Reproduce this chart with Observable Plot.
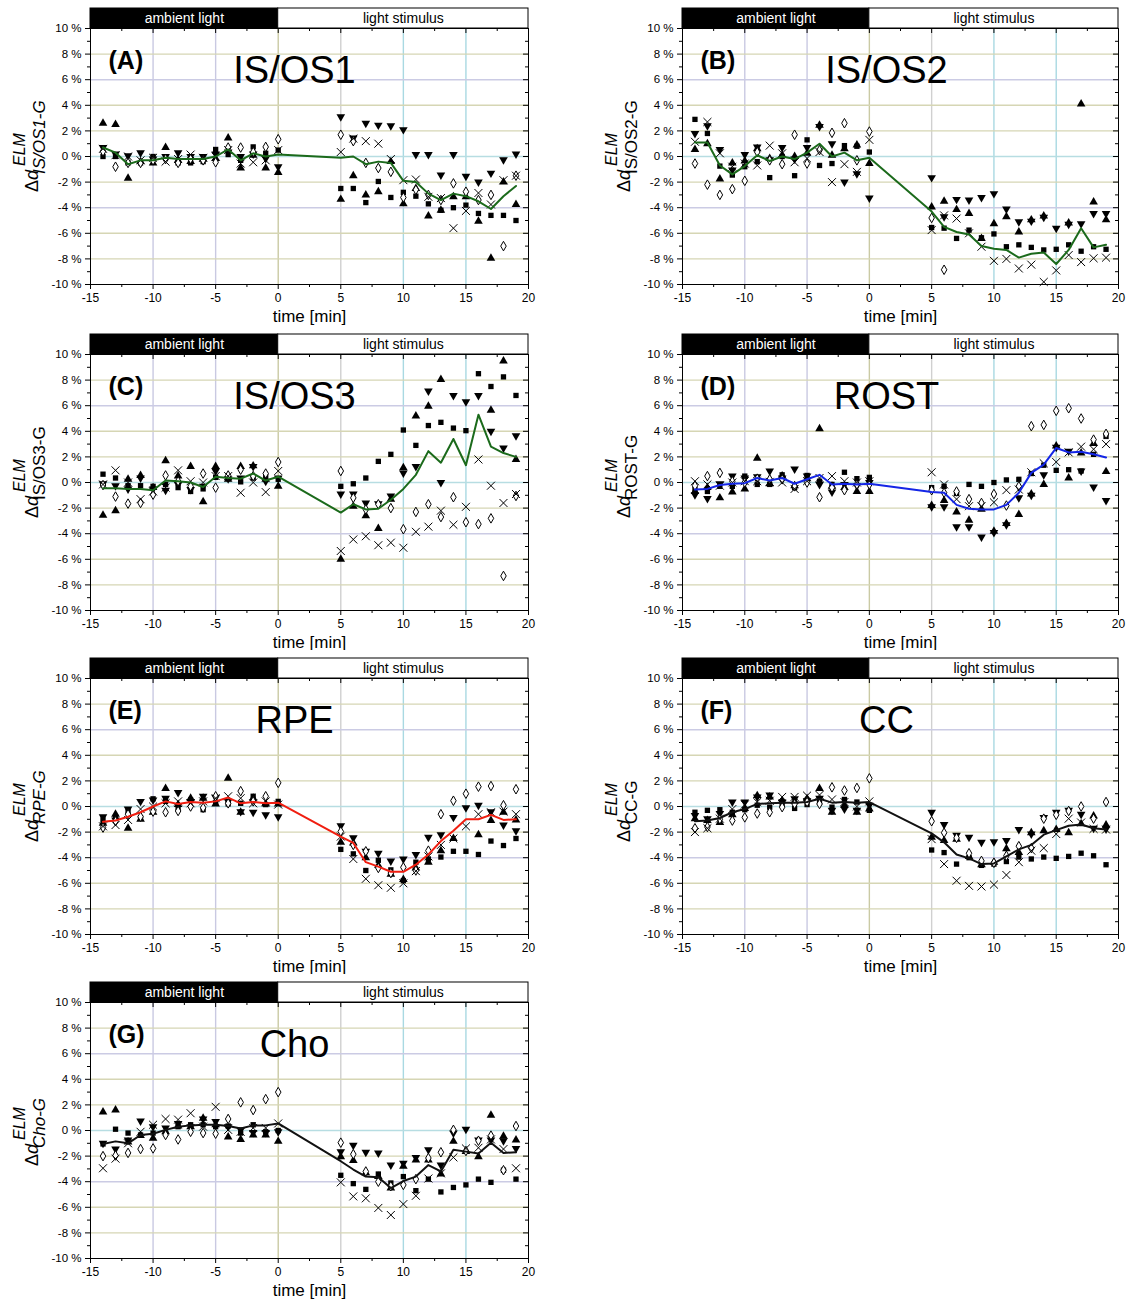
<!DOCTYPE html>
<html>
<head>
<meta charset="utf-8">
<script src="https://cdn.jsdelivr.net/npm/d3@7"></script>
<script src="https://cdn.jsdelivr.net/npm/@observablehq/plot@0.6"></script>
<style>
  body { margin: 0; background: #fff; }
  #wrap { position: relative; width: 1136px; height: 1306px; background: #fff; font-family: "Liberation Sans", Arial, sans-serif; }
  .panel { position: absolute; }
</style>
</head>
<body>
<div id="wrap"></div>
<script>
// ---------- data ----------
const times = [-14,-13,-12,-11,-10,-9,-8,-7,-6,-5,-4,-3,-2,-1,0,5,6,7,8,9,10,11,12,13,14,15,16,17,18,19];
const phaseLabels = ["ambient light", "light stimulus"];
const phaseStarts = [-15, 0];
const phaseEnds = [0, 20];
const xMajor = [-15,-10,-5,0,5,10,15,20];
const xMinor = [-12.5,-7.5,-2.5,2.5,7.5,12.5,17.5];
const yMajor = [-10,-8,-6,-4,-2,0,2,4,6,8,10];
const yMinor = [-9,-7,-5,-3,-1,1,3,5,7,9];
const gridX = [-10,-5,0,5,10,15];
const gridY = [-8,-6,-4,-2,0,2,4,6,8];

// Panel A: IS/OS1
const A_up   = [2.6,2.5,-1.7,-0.4,-0.5,0.7,-0.3,-0.4,-0.2,-0.15,1.45,-0.9,0.1,-0.9,-1.25,-3.35,-1.5,-3.0,-2.75,-0.4,-3.7,-2.5,-4.65,-4.2,-3.15,-3.15,-5.05,-7.95,-2.0,-3.75];
const A_down = [0.7,0.2,0.05,0.3,-0.2,0.0,0.3,0.0,0.0,0.2,0.35,0.0,0.2,-0.15,-0.8,3.1,1.45,2.6,2.45,2.4,2.1,0.15,0.15,-1.45,0.15,-1.55,-2.0,-1.3,-0.25,0.2];
const A_sq   = [0.0,0.0,-0.5,-0.5,0.0,-0.1,-0.5,-0.5,-0.4,0.55,0.15,-0.3,0.75,0.25,0.5,-2.5,-2.5,-3.6,-1.95,-3.2,-2.8,-3.1,-3.7,-4.2,-4.0,-3.8,-4.45,-4.6,-4.6,-5.0];
const A_dia  = [0.4,-0.8,-0.5,-0.5,-0.3,-0.2,-0.5,-0.2,-0.3,-0.45,0.7,0.7,0.35,0.75,1.35,1.7,1.2,-0.5,-0.9,-1.2,-3.2,-2.6,-3.0,-3.4,-2.1,-2.75,-3.4,-3.0,-7.0,-1.5];
const A_x    = [0.6,0.1,0.0,-0.3,-0.1,-0.4,-0.2,0.15,-0.1,0.0,0.5,-0.55,-0.45,-0.3,0.5,0.35,1.4,1.2,1.0,-0.2,-1.85,-1.8,-3.15,-3.25,-5.6,-4.25,-2.85,-3.75,-1.85,-1.5];
const A_mean = [0.7,0.3,-0.6,-0.3,-0.3,-0.1,-0.2,-0.2,-0.2,0.0,0.55,-0.3,0.25,0.0,0.15,-0.1,0.0,-0.6,-0.4,-0.5,-1.9,-2.0,-2.9,-3.4,-2.9,-3.1,-3.5,-4.1,-3.1,-2.3];

// Panel B: IS/OS2
const B_up   = [0.55,1.0,-1.75,-0.5,-0.35,0.6,-0.15,0.1,0.0,0.25,2.45,0.1,0.6,0.9,-0.55,-3.95,-3.5,-4.15,-4.45,-6.4,-5.25,-4.7,-5.9,-4.95,-4.65,null,-5.2,4.1,-3.55,-4.95];
const B_down = [1.8,2.4,0.55,-1.05,0.15,0.75,-0.25,0.7,-0.2,0.7,2.35,1.0,-2.0,-1.35,-3.25,-1.65,-4.7,-3.35,-3.4,-3.2,-2.9,-4.1,-5.1,-5.05,-4.75,-5.6,-5.3,-5.25,-4.45,-4.45];
const B_sq   = [2.9,1.8,-0.75,-1.45,-0.8,-0.4,-1.65,0.0,-1.5,1.3,-0.7,-0.55,0.85,0.8,0.35,-5.55,-5.6,-6.4,-5.75,-6.35,-6.05,-7.05,-6.9,-7.1,-7.3,-7.25,-6.9,-7.4,-7.05,-7.25];
const B_dia  = [-0.55,-2.2,-3.0,-2.55,-1.9,0.35,-0.3,-0.6,1.7,-0.55,0.5,1.85,2.6,-0.3,1.95,-4.8,-8.85,null,null,null,null,null,null,null,null,null,null,null,null,null];
const B_x    = [1.15,2.7,0.25,-0.8,-0.55,-0.7,0.85,0.25,-0.45,-0.15,0.35,-2.0,-0.6,-1.2,1.3,-5.75,-4.6,-4.85,-6.0,-7.05,-8.15,-8.0,-8.75,-8.45,-9.8,-8.9,-7.7,-8.25,-7.95,-7.9];
const B_mean = [1.1,1.1,-0.7,-1.4,-0.75,0.1,-0.35,0.0,-0.2,0.3,1.0,0.0,0.3,-0.3,-0.1,-4.3,-5.5,-5.9,-6.1,-7.0,-7.2,-7.3,-7.9,-7.6,-7.5,-8.4,-7.3,-5.6,-7.1,-6.9];

// Panel C: IS/OS3
const C_up   = [-2.55,-2.2,0.25,0.55,-0.4,1.7,0.5,1.25,-1.5,1.25,0.25,1.25,1.3,0.25,-0.3,-6.0,-1.85,-2.6,-3.6,-1.3,1.15,5.2,5.95,8.05,null,null,null,5.65,9.5,1.8];
const C_down = [-0.1,-0.25,-0.5,0.35,-0.5,-0.6,-0.15,-0.55,-0.3,0.9,0.3,0.35,1.25,0.1,0.35,-0.9,-0.9,-1.6,-1.65,-1.05,0.75,1.25,7.15,0.0,6.8,6.3,6.8,4.0,2.7,3.65];
const C_sq   = [0.65,0.35,-0.25,-0.25,-0.3,-0.15,-0.4,-0.7,-0.5,0.4,0.3,0.05,0.35,0.5,0.25,-0.3,-0.1,0.35,1.65,2.2,4.1,2.9,4.45,4.7,4.25,4.05,8.5,7.5,8.25,6.8];
const C_dia  = [-0.2,-1.1,-1.65,-1.6,-0.95,0.55,0.1,-0.3,0.7,-0.4,0.55,1.0,0.5,0.7,1.6,0.9,-1.2,-2.1,-1.7,-2.0,-3.65,-2.3,-1.7,-2.7,-1.15,-3.1,-3.25,-2.8,-7.3,-1.05];
const C_x    = [-0.15,0.95,0.0,-1.3,-0.7,-0.4,0.95,0.1,0.0,0.5,0.5,-0.8,0.0,-0.75,0.9,-5.35,-4.45,-4.2,-4.9,-4.7,-5.1,-3.85,-3.45,-2.2,-3.3,-1.9,1.8,-0.25,-1.6,-0.9];
const C_mean = [-0.45,-0.45,-0.5,-0.5,-0.6,0.15,0.1,0.0,-0.35,0.45,0.35,0.3,0.7,0.15,0.45,-2.35,-1.7,-2.1,-2.05,-1.35,-0.5,0.6,2.45,1.55,3.4,1.35,5.3,2.8,2.3,2.0];

// Panel D: ROST
const D_up   = [-0.7,-0.4,-1.2,-0.75,-0.5,1.9,-0.1,0.5,-0.25,0.3,4.2,-0.3,-0.4,-0.7,-0.7,-1.8,-1.4,-2.3,-2.95,-2.1,-3.8,-3.2,-2.5,-0.9,-0.15,2.85,0.35,2.3,3.05,0.85];
const D_down = [-0.95,-1.25,-0.1,0.5,0.35,0.45,0.9,0.35,1.05,0.5,-0.15,-0.75,-0.15,-0.25,0.0,-1.9,-1.9,-3.45,-3.45,-4.25,-3.9,-3.3,-1.2,-1.0,0.6,2.75,2.45,0.9,-0.35,-1.4];
const D_sq   = [-0.55,-0.7,-0.3,-0.3,0.5,-0.15,-0.15,0.6,-0.4,0.55,0.1,-0.15,0.8,0.3,0.4,-0.4,-0.3,-0.85,-0.15,-0.3,0.0,0.2,0.25,0.7,1.35,0.95,1.0,0.9,2.2,3.6];
const D_dia  = [-0.25,0.5,0.75,0.1,0.0,0.3,0.25,0.25,-0.3,0.0,-1.15,-0.4,-0.6,-0.15,-0.15,-0.6,-0.8,-0.7,-1.3,-1.6,-0.9,-1.8,-0.3,4.4,4.5,5.6,5.8,5.0,3.35,3.8];
const D_x    = [0.1,-0.15,-0.25,0.0,0.1,0.1,0.05,0.0,-0.5,0.1,0.35,0.5,0.1,0.0,0.1,0.8,-0.15,-1.3,-1.85,-1.85,-1.55,-0.6,-0.55,0.8,1.5,1.6,2.35,2.8,2.6,3.0];
const D_mean = [-0.55,-0.5,-0.2,-0.1,-0.05,0.35,0.15,0.35,-0.1,0.25,0.6,-0.15,-0.1,-0.15,-0.1,-0.75,-0.8,-1.75,-2.05,-2.1,-2.1,-1.75,-0.8,0.75,1.4,2.7,2.35,2.4,2.2,1.95];

// Panel E: RPE
const E_up   = [-1.3,-0.6,-1.7,-1.0,-0.45,1.4,0.15,0.65,0.65,0.2,2.2,-0.45,0.65,0.2,0.2,-2.8,-2.85,-4.0,-4.6,-5.3,-5.7,-4.8,-4.35,-3.45,-2.5,null,-2.2,-1.1,-0.45,-1.05];
const E_down = [-0.8,-1.05,-0.2,0.4,0.5,0.65,1.1,0.4,0.8,0.7,0.4,-0.4,-0.45,-0.65,-0.8,-1.5,-2.45,-3.5,-3.65,-4.25,-4.1,-3.75,-2.4,-2.2,-0.85,-0.1,0.1,-0.4,-1.45,-1.9];
const E_sq   = [-1.05,-0.8,-0.4,-0.9,0.6,0.4,-0.1,0.5,-0.25,0.25,0.2,0.25,0.8,0.15,0.4,-3.35,-3.7,-5.0,-4.2,-4.95,-5.8,-4.35,-4.1,-3.95,-3.5,-3.5,-3.75,-2.7,-3.05,-2.5];
const E_dia  = [-1.65,-1.15,-0.6,-0.8,-0.4,-0.45,-0.35,0.0,-0.1,0.8,0.25,1.2,0.4,0.8,1.85,-1.95,-3.0,-3.5,-4.8,-5.2,-4.75,-5.0,-3.45,-0.6,0.45,1.0,1.55,1.6,0.1,1.35];
const E_x    = [-1.55,-1.45,-1.05,-0.2,0.0,0.25,0.4,0.25,0.4,0.65,0.8,0.65,0.25,0.4,0.15,-2.35,-4.1,-5.65,-6.15,-6.35,-6.0,-5.05,-3.9,-3.0,-2.5,-1.55,-0.6,-0.45,-0.4,-0.6];
const E_mean = [-1.2,-1.1,-0.8,-0.45,0.0,0.4,0.2,0.35,0.3,0.4,0.7,0.25,0.35,0.25,0.3,-2.35,-2.85,-4.35,-4.7,-5.1,-5.1,-4.55,-3.75,-2.7,-1.9,-1.0,-1.0,-0.65,-1.05,-1.0];

// Panel F: CC
const F_up   = [-0.95,-1.1,-1.25,-0.65,-0.15,0.85,0.75,0.45,0.4,0.6,1.4,-0.45,0.1,-0.45,-0.2,-2.4,-2.65,-2.55,-3.9,-4.55,-4.35,-3.3,-3.6,-2.05,-1.9,-1.8,-2.05,-1.35,-0.75,-1.45];
const F_down = [-0.7,-0.95,-0.55,0.35,0.35,0.75,0.9,0.35,0.6,0.45,0.65,-0.3,-0.2,-0.3,0.1,-0.45,-1.4,-2.25,-2.4,-2.8,-2.75,-2.65,-1.8,-2.15,-0.85,-0.45,-0.3,-0.6,-1.7,-1.75];
const F_sq   = [-0.45,-0.3,-0.25,-0.45,-0.25,0.1,-0.05,0.15,-0.15,0.15,0.35,-0.05,0.55,0.35,-0.3,-3.4,-3.6,-4.5,-4.0,-4.6,-4.5,-4.3,-3.95,-4.1,-3.95,-4.05,-3.9,-3.65,-3.85,-4.55];
const F_dia  = [-1.7,-1.6,-1.0,-1.1,-0.85,-0.55,-0.45,-0.05,0.2,0.35,0.2,1.5,1.25,1.45,2.2,-1.15,-2.05,-2.45,-3.65,-4.25,-4.4,-3.85,-3.1,-3.25,-0.95,-0.65,-0.35,0.0,-0.95,0.35];
const F_x    = [-2.0,-1.7,-0.95,-0.2,0.15,0.35,0.45,0.75,0.75,0.85,0.9,0.55,0.35,0.0,0.4,-2.55,-4.5,-5.8,-6.2,-6.25,-6.1,-5.35,-4.35,-3.45,-3.25,-2.15,-0.95,-1.25,-1.75,-1.8];
const F_mean = [-1.15,-1.1,-0.9,-0.45,-0.2,0.2,0.25,0.3,0.3,0.35,0.6,0.3,0.35,0.3,0.35,-2.1,-2.8,-3.75,-4.05,-4.5,-4.45,-3.9,-3.35,-3.0,-2.2,-1.85,-1.5,-1.4,-1.7,-1.8];

// Panel G: Cho
const G_up   = [1.45,1.6,-0.9,-0.4,-0.6,-0.1,0.35,0.3,0.95,0.45,-0.5,-0.7,-0.35,-0.35,-0.85,-2.05,-2.35,-3.3,-3.6,-4.5,-2.8,-2.3,-2.3,-3.4,-0.85,-1.65,-2.05,1.2,-0.45,-0.75];
const G_down = [-1.0,-1.45,-0.75,0.75,0.3,0.2,0.55,0.3,0.9,0.7,0.3,0.05,-0.15,-0.15,-0.1,-1.65,-1.15,-1.7,-1.75,-2.7,-2.55,-2.1,-1.5,-2.7,-0.2,0.1,-0.75,-0.75,-0.8,-1.4];
const G_sq   = [-1.05,0.1,-0.2,-0.35,-0.2,-0.2,0.3,0.45,0.45,0.3,0.35,-0.2,0.45,-0.1,0.0,-3.5,-4.15,-4.6,-3.4,-4.1,-3.6,-4.7,-3.8,-4.8,-4.45,-4.25,-3.8,-4.05,-3.1,-3.8];
const G_dia  = [-2.0,-1.95,-1.75,-1.45,-1.4,-0.35,-0.7,-0.1,-0.2,-0.25,0.9,2.2,1.6,2.45,3.0,-0.95,-1.85,-3.2,-4.0,-4.35,-4.25,-3.8,-2.15,-1.7,0.05,-1.6,-0.8,-0.4,-3.1,0.35];
const G_x    = [-2.95,-2.2,-1.0,-0.1,0.45,0.9,0.85,1.35,0.3,1.85,0.05,-0.1,0.2,0.2,0.55,-4.05,-5.15,-5.3,-6.05,-6.6,-5.75,-5.1,-3.75,-3.35,-2.1,-1.4,-1.35,-0.7,-1.45,-2.95];
const G_mean = [-1.05,-0.85,-1.0,-0.35,-0.25,0.05,0.3,0.4,0.45,0.45,0.35,0.15,0.4,0.4,0.55,-2.4,-3.05,-3.6,-3.65,-4.5,-3.95,-3.6,-2.7,-3.2,-1.5,-1.65,-1.8,-0.95,-1.75,-1.7];

const panelLetters = ["(A)","(B)","(C)","(D)","(E)","(F)","(G)"];
const panelNames = ["IS/OS1","IS/OS2","IS/OS3","ROST","RPE","CC","Cho"];
const panelSubs = ["IS/OS1-G","IS/OS2-G","IS/OS3-G","ROST-G","RPE-G","CC-G","Cho-G"];

// ---------- styles ----------
const FONT = '"Liberation Sans", Arial, Helvetica, sans-serif';
const panelStyle = [
  {color: "#1b6a1b", italicSub: true},
  {color: "#1b6a1b", italicSub: false},
  {color: "#1b6a1b", italicSub: false},
  {color: "#1426e6", italicSub: false},
  {color: "#f01e10", italicSub: true},
  {color: "#111111", italicSub: false},
  {color: "#111111", italicSub: true}
];
const seriesSets = [
  [A_up, A_down, A_sq, A_dia, A_x, A_mean],
  [B_up, B_down, B_sq, B_dia, B_x, B_mean],
  [C_up, C_down, C_sq, C_dia, C_x, C_mean],
  [D_up, D_down, D_sq, D_dia, D_x, D_mean],
  [E_up, E_down, E_sq, E_dia, E_x, E_mean],
  [F_up, F_down, F_sq, F_dia, F_x, F_mean],
  [G_up, G_down, G_sq, G_dia, G_x, G_mean]
];

const triangleDown = {
  draw(context, size) {
    const y = Math.sqrt(size / (Math.sqrt(3) * 3));
    context.moveTo(0, y * 2);
    context.lineTo(-Math.sqrt(3) * y, -y);
    context.lineTo(Math.sqrt(3) * y, -y);
    context.closePath();
  }
};
const markerStyles = [
  {symbol: "triangle", fill: "black", stroke: "none", r: 3.2, strokeWidth: 0},
  {symbol: triangleDown, fill: "black", stroke: "none", r: 3.2, strokeWidth: 0},
  {symbol: "square", fill: "black", stroke: "none", r: 3.0, strokeWidth: 0},
  {symbol: "diamond", fill: "white", stroke: "black", r: 2.9, strokeWidth: 1},
  {symbol: "times", fill: "none", stroke: "black", r: 3.7, strokeWidth: 1}
];

function gridXColor(v) {
  if (v === 0) return "#cacaa4";
  if (v === 5) return "#d0d0d0";
  if (v >= 10) return "#a9d9e2";
  return "#c9c9e2";
}
function gridYColor(v) {
  if (v === 0) return "#b7dde2";
  if (v === 6 || v === -4) return "#cbcbe4";
  return "#d6d6b4";
}

const phases = phaseLabels.map((label, i) => ({label, start: phaseStarts[i], end: phaseEnds[i], dark: i === 0}));

// ---------- build ----------
const wrap = document.getElementById("wrap");
const W = 540, H = 330, mL = 90, mT = 28, mB = 46;
const rowTops = [0, 326, 650, 974];

panelNames.forEach((name, i) => {
  const col = i % 2, row = Math.floor(i / 2);
  const mR = col ? 14 : 12;
  const frameW = W - mL - mR, frameH = H - mT - mB;
  const sets = seriesSets[i];
  const style = panelStyle[i];

  const dotMarks = markerStyles.map((ms, k) => {
    const rows = times.map((t, j) => ({t, v: sets[k][j]})).filter(d => d.v != null);
    return Plot.dot(rows, {x: "t", y: "v", symbol: ms.symbol, r: ms.r, fill: ms.fill, stroke: ms.stroke, strokeWidth: ms.strokeWidth});
  });
  const meanRows = times.map((t, j) => ({t, v: sets[5][j]}));

  const chart = Plot.plot({
    width: W, height: H,
    marginLeft: mL, marginRight: mR, marginTop: mT, marginBottom: mB,
    x: {domain: [-15, 20], label: null},
    y: {domain: [-10, 10], label: null},
    color: {type: "identity"},
    style: {fontFamily: FONT, fontSize: "12px", color: "black", background: "white", overflow: "visible"},
    marks: [
      Plot.ruleX(gridX, {x: d => d, stroke: d => gridXColor(d), strokeWidth: 1.4}),
      Plot.ruleY(gridY, {y: d => d, stroke: d => gridYColor(d), strokeWidth: 1.4}),
      // header bar
      Plot.rect(phases, {x1: "start", x2: "end", fill: d => d.dark ? "black" : "white", stroke: "black", strokeWidth: 1, insetTop: -20, insetBottom: frameH}),
      Plot.text(phases, {x: d => (d.start + d.end) / 2, frameAnchor: "top", dy: -10, lineAnchor: "middle", text: "label", fill: d => d.dark ? "white" : "black", fontSize: 14}),
      // panel titles
      Plot.text([panelLetters[i]], {frameAnchor: "top-left", dx: 18, dy: 40, text: d => d, fontSize: 25, fontWeight: "bold", textAnchor: "start", lineAnchor: "bottom"}),
      Plot.text([name], {frameAnchor: "top-left", dx: 204, dy: 54, text: d => d, fontSize: 38, textAnchor: "middle", lineAnchor: "bottom"}),
      // markers and mean line
      ...dotMarks,
      Plot.line(meanRows, {x: "t", y: "v", stroke: style.color, strokeWidth: 2, strokeLinejoin: "round"}),
      // frame and ticks
      Plot.frame({stroke: "black", strokeWidth: 1}),
      Plot.axisY(yMajor, {anchor: "left", tickSize: 5, tickPadding: 4, tickFormat: d => d + " %", fontSize: 11.5, label: null}),
      Plot.axisY(yMinor, {anchor: "left", tickSize: 3, tickFormat: () => "", label: null}),
      Plot.axisX(xMajor, {anchor: "bottom", tickSize: 5, tickPadding: 4, tickFormat: d => String(d), fontSize: 12, label: null}),
      Plot.axisX(xMinor, {anchor: "bottom", tickSize: 3, tickFormat: () => "", label: null}),
      Plot.tickY(yMajor, {y: d => d, insetLeft: frameW - 5, stroke: "black"}),
      Plot.tickY(yMinor, {y: d => d, insetLeft: frameW - 3, stroke: "black"}),
      Plot.tickX(xMajor, {x: d => d, insetBottom: frameH - 5, stroke: "black"}),
      Plot.tickX(xMinor, {x: d => d, insetBottom: frameH - 3, stroke: "black"}),
      Plot.text(["time [min]"], {frameAnchor: "bottom", dy: 37, text: d => d, fontSize: 17, lineAnchor: "bottom"})
    ]
  });

  // y-axis label with superscript / subscript
  const cy = mT + frameH / 2;
  const g = d3.select(chart).append("g")
    .attr("font-family", FONT)
    .attr("fill", "black")
    .attr("text-anchor", "start")
    .attr("transform", `translate(38,${cy}) rotate(-90)`);
  const t1 = g.append("text").attr("x", -36).attr("y", 0).attr("font-size", 18).attr("text-anchor", "start");
  t1.append("tspan").text("Δ");
  t1.append("tspan").attr("font-style", "italic").text("d");
  g.append("text").attr("x", -10).attr("y", -13).attr("font-size", 16).attr("text-anchor", "start").attr("font-style", "italic").text("ELM");
  g.append("text").attr("x", -18).attr("y", 7).attr("font-size", 17).attr("text-anchor", "start")
    .attr("font-style", style.italicSub ? "italic" : "normal").text(panelSubs[i]);

  const div = document.createElement("div");
  div.className = "panel";
  div.style.left = (col ? 592 : 0) + "px";
  div.style.top = rowTops[row] + "px";
  div.appendChild(chart);
  wrap.appendChild(div);
});
</script>
</body>
</html>
